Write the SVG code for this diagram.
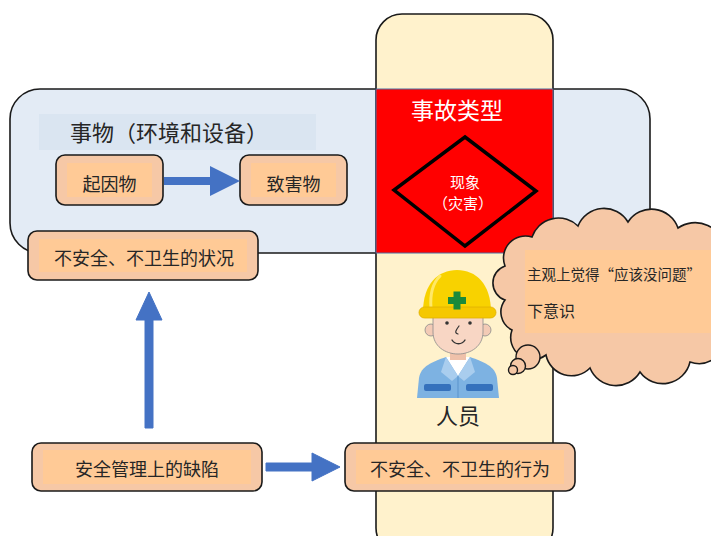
<svg xmlns="http://www.w3.org/2000/svg" width="711" height="536" viewBox="0 0 711 536">
  <defs>
    <style>
      .t { font-family: "Noto Sans CJK SC", "Noto Sans", sans-serif; fill: #262626; }
      .box { fill: #F6C8A6; stroke: #1a1a1a; stroke-width: 1.6; }
      .inner { fill: #FFCA96; }
      .arrow { fill: #4472C4; }
      .w { fill: #ffffff; font-family: "Noto Sans CJK SC", sans-serif; }
    </style>
  </defs>
  <rect width="711" height="536" fill="#ffffff"/>

  <!-- blue panel: things (environment & equipment) -->
  <g id="things-panel">
    <rect x="10" y="89" width="640" height="164" rx="30" fill="#E3EBF5" stroke="#1a1a1a" stroke-width="1.6"/>
    <rect x="39" y="114" width="277" height="36" fill="#DAE5F1"/>
    <text class="t" x="70" y="141" font-size="22">事物（环境和设备）</text>
  </g>

  <!-- cream column: people -->
  <g id="people-column">
    <rect x="376" y="14" width="177" height="540" rx="26" fill="#FFF2CC" stroke="#1a1a1a" stroke-width="1.6"/>
  </g>

  <!-- red square: accident type -->
  <g id="accident-type">
    <rect x="376" y="89" width="177" height="164" fill="#FF0000" stroke="#4F6F9F" stroke-width="1"/>
    <text class="w" x="457" y="119" font-size="23" text-anchor="middle">事故类型</text>
    <polygon points="465,137 536,191 465,246 394,190" fill="none" stroke="#000" stroke-width="3.5"/>
    <text class="w" x="465" y="188" font-size="15" text-anchor="middle">现象</text>
    <text class="w" x="463" y="209" font-size="15" text-anchor="middle">（灾害）</text>
  </g>

  <!-- worker illustration -->
  <g id="worker">
    <!-- jacket -->
    <path d="M417 398 L419 378 C421 366 432 362 446 357 L470 357 C484 362 495 366 497 378 L499 398 Z" fill="#7DB2E2"/>
    <path d="M446 357 L458 376 L470 357 Z" fill="#ffffff"/>
    <path d="M446 357 L441 372 L452 381 L458 376 Z" fill="#A9CDEE"/>
    <path d="M470 357 L475 372 L464 381 L458 376 Z" fill="#A9CDEE"/>
    <line x1="458" y1="376" x2="458" y2="398" stroke="#5B93CC" stroke-width="1"/>
    <rect x="424" y="384" width="27" height="7" rx="2" fill="#3571BC"/>
    <rect x="466" y="384" width="27" height="7" rx="2" fill="#3571BC"/>
    <!-- neck -->
    <rect x="450" y="346" width="16" height="14" fill="#EFC1AA"/>
    <!-- ears -->
    <circle cx="431" cy="330" r="6" fill="#F3CBB6" stroke="#8a8a8a" stroke-width="0.8"/>
    <circle cx="485" cy="330" r="6" fill="#F3CBB6" stroke="#8a8a8a" stroke-width="0.8"/>
    <!-- face -->
    <path d="M433 314 L433 332 C433 346 445 354 458 354 C471 354 483 346 483 332 L483 314 Z" fill="#F8D6C4" stroke="#8a8a8a" stroke-width="0.8"/>
    <circle cx="447" cy="323" r="1.8" fill="#333"/>
    <circle cx="470" cy="323" r="1.8" fill="#333"/>
    <path d="M459 326 C456 330 454 333 458 334" fill="none" stroke="#333" stroke-width="1.2" stroke-linecap="round"/>
    <path d="M452 340 C455 345 462 345 465 340" fill="none" stroke="#333" stroke-width="1.4" stroke-linecap="round"/>
    <!-- helmet -->
    <path d="M423 312 C423 284 438 270 457 270 C476 270 491 284 491 312 Z" fill="#F8D200"/>
    <path d="M440 276 C432 284 430 296 431 308" fill="none" stroke="#FFE866" stroke-width="3" stroke-linecap="round"/>
    <rect x="419" y="307" width="77" height="11" rx="5.5" fill="#F5C800" stroke="#E0B000" stroke-width="0.8"/>
    <rect x="448" y="297" width="18" height="7" fill="#1A8A3A"/>
    <rect x="453.5" y="291.5" width="7" height="18" fill="#1A8A3A"/>
    <text class="t" x="458" y="424" font-size="22" text-anchor="middle">人员</text>
  </g>

  <!-- thought bubble -->
  <g id="thought">
    <path d="M505 266 A22 22 0 0 1 532 237 A28 28 0 0 1 578 226 A28 28 0 0 1 628 222 A28 28 0 0 1 678 228 A30 30 0 0 1 725 250 L725 338 A26 26 0 0 1 690 362 A28 28 0 0 1 640 372 A28 28 0 0 1 590 368 A26 26 0 0 1 546 355 A22 22 0 0 1 512 330 A20 20 0 0 1 505 300 A18 18 0 0 1 505 266 Z" fill="#F6C8A6" stroke="#1a1a1a" stroke-width="1.6"/>
    <rect x="525" y="250" width="190" height="83" fill="#FFCA96"/>
    <circle cx="528" cy="357" r="12" fill="#F6C8A6" stroke="#1a1a1a" stroke-width="1.4"/>
    <circle cx="518" cy="366" r="7.5" fill="#F6C8A6" stroke="#1a1a1a" stroke-width="1.4"/>
    <circle cx="513" cy="370" r="4.5" fill="#F6C8A6" stroke="#1a1a1a" stroke-width="1.4"/>
    <text class="t" x="527" y="280" font-size="14.5">主观上觉得“应该没问题”</text>
    <text class="t" x="527" y="317" font-size="16">下意识</text>
  </g>

  <!-- cause / harm objects -->
  <g id="cause-object">
    <rect class="box" x="56" y="155" width="107" height="50" rx="9"/>
    <rect class="inner" x="67" y="163" width="85" height="34"/>
    <text class="t" x="109.5" y="191" font-size="18" text-anchor="middle">起因物</text>
  </g>
  <g id="harm-object">
    <rect class="box" x="240" y="155" width="107" height="50" rx="9"/>
    <rect class="inner" x="251" y="163" width="85" height="34"/>
    <text class="t" x="293.5" y="191" font-size="18" text-anchor="middle">致害物</text>
  </g>
  <g id="unsafe-condition">
    <rect class="box" x="28" y="231" width="230" height="49" rx="9"/>
    <rect class="inner" x="39" y="239" width="208" height="33"/>
    <text class="t" x="144" y="265" font-size="18" text-anchor="middle">不安全、不卫生的状况</text>
  </g>
  <g id="management-defect">
    <rect class="box" x="32" y="443" width="230" height="48" rx="9"/>
    <rect class="inner" x="43" y="450" width="208" height="34"/>
    <text class="t" x="147" y="476" font-size="18" text-anchor="middle">安全管理上的缺陷</text>
  </g>
  <g id="unsafe-act">
    <rect class="box" x="345" y="443" width="230" height="48" rx="9"/>
    <rect class="inner" x="356" y="450" width="208" height="34"/>
    <text class="t" x="460" y="476" font-size="18" text-anchor="middle">不安全、不卫生的行为</text>
  </g>

  <!-- connectors -->
  <g id="connectors">
    <path class="arrow" d="M164 177 L210 177 L210 166 L240 181 L210 196 L210 185 L164 185 Z"/>
    <path class="arrow" d="M145 428 L145 320 L136 320 L149 292 L162 320 L153 320 L153 428 Z" stroke="#4472C4" stroke-width="1" stroke-linejoin="round"/>
    <path class="arrow" d="M266 463 L312 463 L312 453 L340 467 L312 481 L312 471 L266 471 Z" stroke="#4472C4" stroke-width="1" stroke-linejoin="round"/>
  </g>
</svg>
